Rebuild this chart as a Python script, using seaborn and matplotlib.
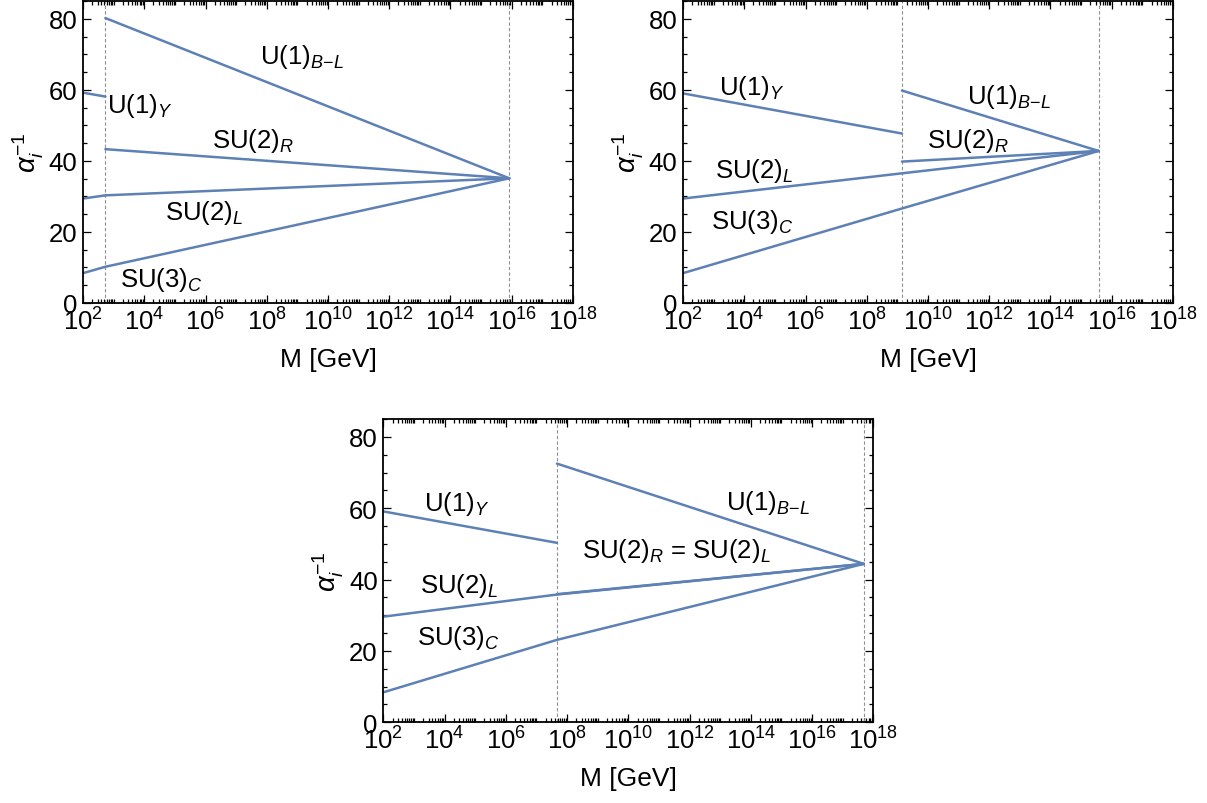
import numpy as np
import pandas as pd
import matplotlib
matplotlib.use("Agg")
import matplotlib.pyplot as plt
import seaborn as sns
from matplotlib.ticker import LogLocator, MultipleLocator, NullFormatter

# --- data ---
# panel A: left-right at ~10^2.7 GeV, unification ~10^15.9 GeV
a_break = 10 ** 2.73
a_gut = 10 ** 15.92
a_u1y_m = [1e2, a_break]
a_u1y = [59.2, 58.1]
a_u1bl_m = [a_break, a_gut]
a_u1bl = [80.2, 35.1]
a_su2r_m = [a_break, a_gut]
a_su2r = [43.3, 35.1]
a_su2l_m = [1e2, a_break, a_gut]
a_su2l = [29.4, 30.3, 35.1]
a_su3c_m = [1e2, a_break, a_gut]
a_su3c = [8.4, 10.2, 35.1]

# panel B: breaking ~10^9.15 GeV, unification ~10^15.57 GeV
b_break = 10 ** 9.15
b_gut = 10 ** 15.57
b_u1y_m = [1e2, b_break]
b_u1y = [59.0, 47.7]
b_u1bl_m = [b_break, b_gut]
b_u1bl = [59.8, 42.8]
b_su2r_m = [b_break, b_gut]
b_su2r = [39.8, 42.8]
b_su2l_m = [1e2, b_break, b_gut]
b_su2l = [29.4, 36.5, 42.8]
b_su3c_m = [1e2, b_break, b_gut]
b_su3c = [8.4, 26.6, 42.8]

# panel C: breaking ~10^7.67 GeV, unification ~10^17.69 GeV
c_break = 10 ** 7.67
c_gut = 10 ** 17.69
c_u1y_m = [1e2, c_break]
c_u1y = [59.1, 50.3]
c_u1bl_m = [c_break, c_gut]
c_u1bl = [72.5, 44.4]
c_su2r_m = [c_break, c_gut]
c_su2r = [35.9, 44.4]
c_su2l_m = [1e2, c_break, c_gut]
c_su2l = [29.6, 35.8, 44.4]
c_su3c_m = [1e2, c_break, c_gut]
c_su3c = [8.4, 23.1, 44.4]

# label text and positions (log10 M, alpha^-1), baseline-left anchored
a_labels = [(r"U(1)$_{B\!-\!L}$", 7.78, 67.6), (r"U(1)$_Y$", 2.78, 53.9),
            (r"SU(2)$_R$", 6.21, 43.8), (r"SU(2)$_L$", 4.68, 23.6),
            (r"SU(3)$_C$", 3.21, 4.8)]
b_labels = [(r"U(1)$_Y$", 3.19, 58.7), (r"SU(2)$_L$", 3.04, 35.6),
            (r"SU(3)$_C$", 2.91, 21.1), (r"U(1)$_{B\!-\!L}$", 11.26, 56.4),
            (r"SU(2)$_R$", 9.96, 43.8)]
c_labels = [(r"U(1)$_Y$", 3.34, 59.4), (r"SU(2)$_L$", 3.20, 36.5),
            (r"SU(3)$_C$", 3.11, 22.0), (r"SU(2)$_R$ = SU(2)$_L$", 8.48, 46.3),
            (r"U(1)$_{B\!-\!L}$", 13.19, 59.9)]

line_color = "#5E81B5"

sns.set_style("ticks")
plt.rcParams["font.family"] = ["Liberation Sans", "DejaVu Sans"]
plt.rcParams["mathtext.fontset"] = "custom"
plt.rcParams["mathtext.rm"] = "Liberation Sans"
plt.rcParams["mathtext.it"] = "Liberation Sans:italic"
plt.rcParams["mathtext.bf"] = "Liberation Sans:bold"
plt.rcParams["text.color"] = "black"
plt.rcParams["axes.labelcolor"] = "black"
plt.rcParams["xtick.color"] = "black"
plt.rcParams["ytick.color"] = "black"


def build_frame(segs):
    rows = []
    for name, ms, vals in segs:
        for m, v in zip(ms, vals):
            rows.append({"seg": name, "M": m, "alpha": v})
    return pd.DataFrame(rows)


def draw_panel(ax, segs, vlines, labels):
    ax.set_xscale("log")
    df = build_frame(segs)
    sns.lineplot(data=df, x="M", y="alpha", units="seg", estimator=None,
                 sort=False, color=line_color, lw=1.8, ax=ax, legend=False)
    for v in vlines:
        ax.axvline(v, color="#909090", lw=0.8, ls=(0, (3, 2)), zorder=1)
    for txt, lx, ly in labels:
        ax.text(10 ** lx, ly, txt, fontsize=18.5, ha="left", va="baseline")
    ax.set_xlim(1e2, 1e18)
    ax.set_ylim(0, 85)
    ax.set_xticks([10.0 ** k for k in range(2, 19, 2)])
    ax.xaxis.set_minor_locator(LogLocator(base=10, subs=np.arange(1, 10), numticks=100))
    ax.xaxis.set_minor_formatter(NullFormatter())
    ax.set_yticks([0, 20, 40, 60, 80])
    ax.yaxis.set_minor_locator(MultipleLocator(5))
    ax.tick_params(which="both", direction="in", top=True, right=True,
                   labelsize=18.5, width=0.9, color="black")
    ax.tick_params(which="major", length=6)
    ax.tick_params(which="minor", length=3)
    ax.tick_params(axis="x", which="major", pad=3)
    ax.tick_params(axis="y", which="major", pad=4)
    for s in ax.spines.values():
        s.set_linewidth(1.3)
        s.set_color("black")
    ax.set_xlabel("M [GeV]", fontsize=19, labelpad=9)
    ax.set_ylabel(r"$\alpha_i^{-1}$", fontsize=20, labelpad=2)


fig = plt.figure(figsize=(12.07, 8.04), dpi=100)
ax1 = fig.add_axes([0.0688, 0.6219, 0.4059, 0.3756])
ax2 = fig.add_axes([0.5659, 0.6219, 0.4059, 0.3756])
ax3 = fig.add_axes([0.3176, 0.1004, 0.4059, 0.3772])

draw_panel(ax1, [("u1y", a_u1y_m, a_u1y), ("u1bl", a_u1bl_m, a_u1bl),
                 ("su2r", a_su2r_m, a_su2r), ("su2l", a_su2l_m, a_su2l),
                 ("su3c", a_su3c_m, a_su3c)], [a_break, a_gut], a_labels)
draw_panel(ax2, [("u1y", b_u1y_m, b_u1y), ("u1bl", b_u1bl_m, b_u1bl),
                 ("su2r", b_su2r_m, b_su2r), ("su2l", b_su2l_m, b_su2l),
                 ("su3c", b_su3c_m, b_su3c)], [b_break, b_gut], b_labels)
draw_panel(ax3, [("u1y", c_u1y_m, c_u1y), ("u1bl", c_u1bl_m, c_u1bl),
                 ("su2r", c_su2r_m, c_su2r), ("su2l", c_su2l_m, c_su2l),
                 ("su3c", c_su3c_m, c_su3c)], [c_break, c_gut], c_labels)

fig.savefig("out.png", dpi=100, facecolor="white")
